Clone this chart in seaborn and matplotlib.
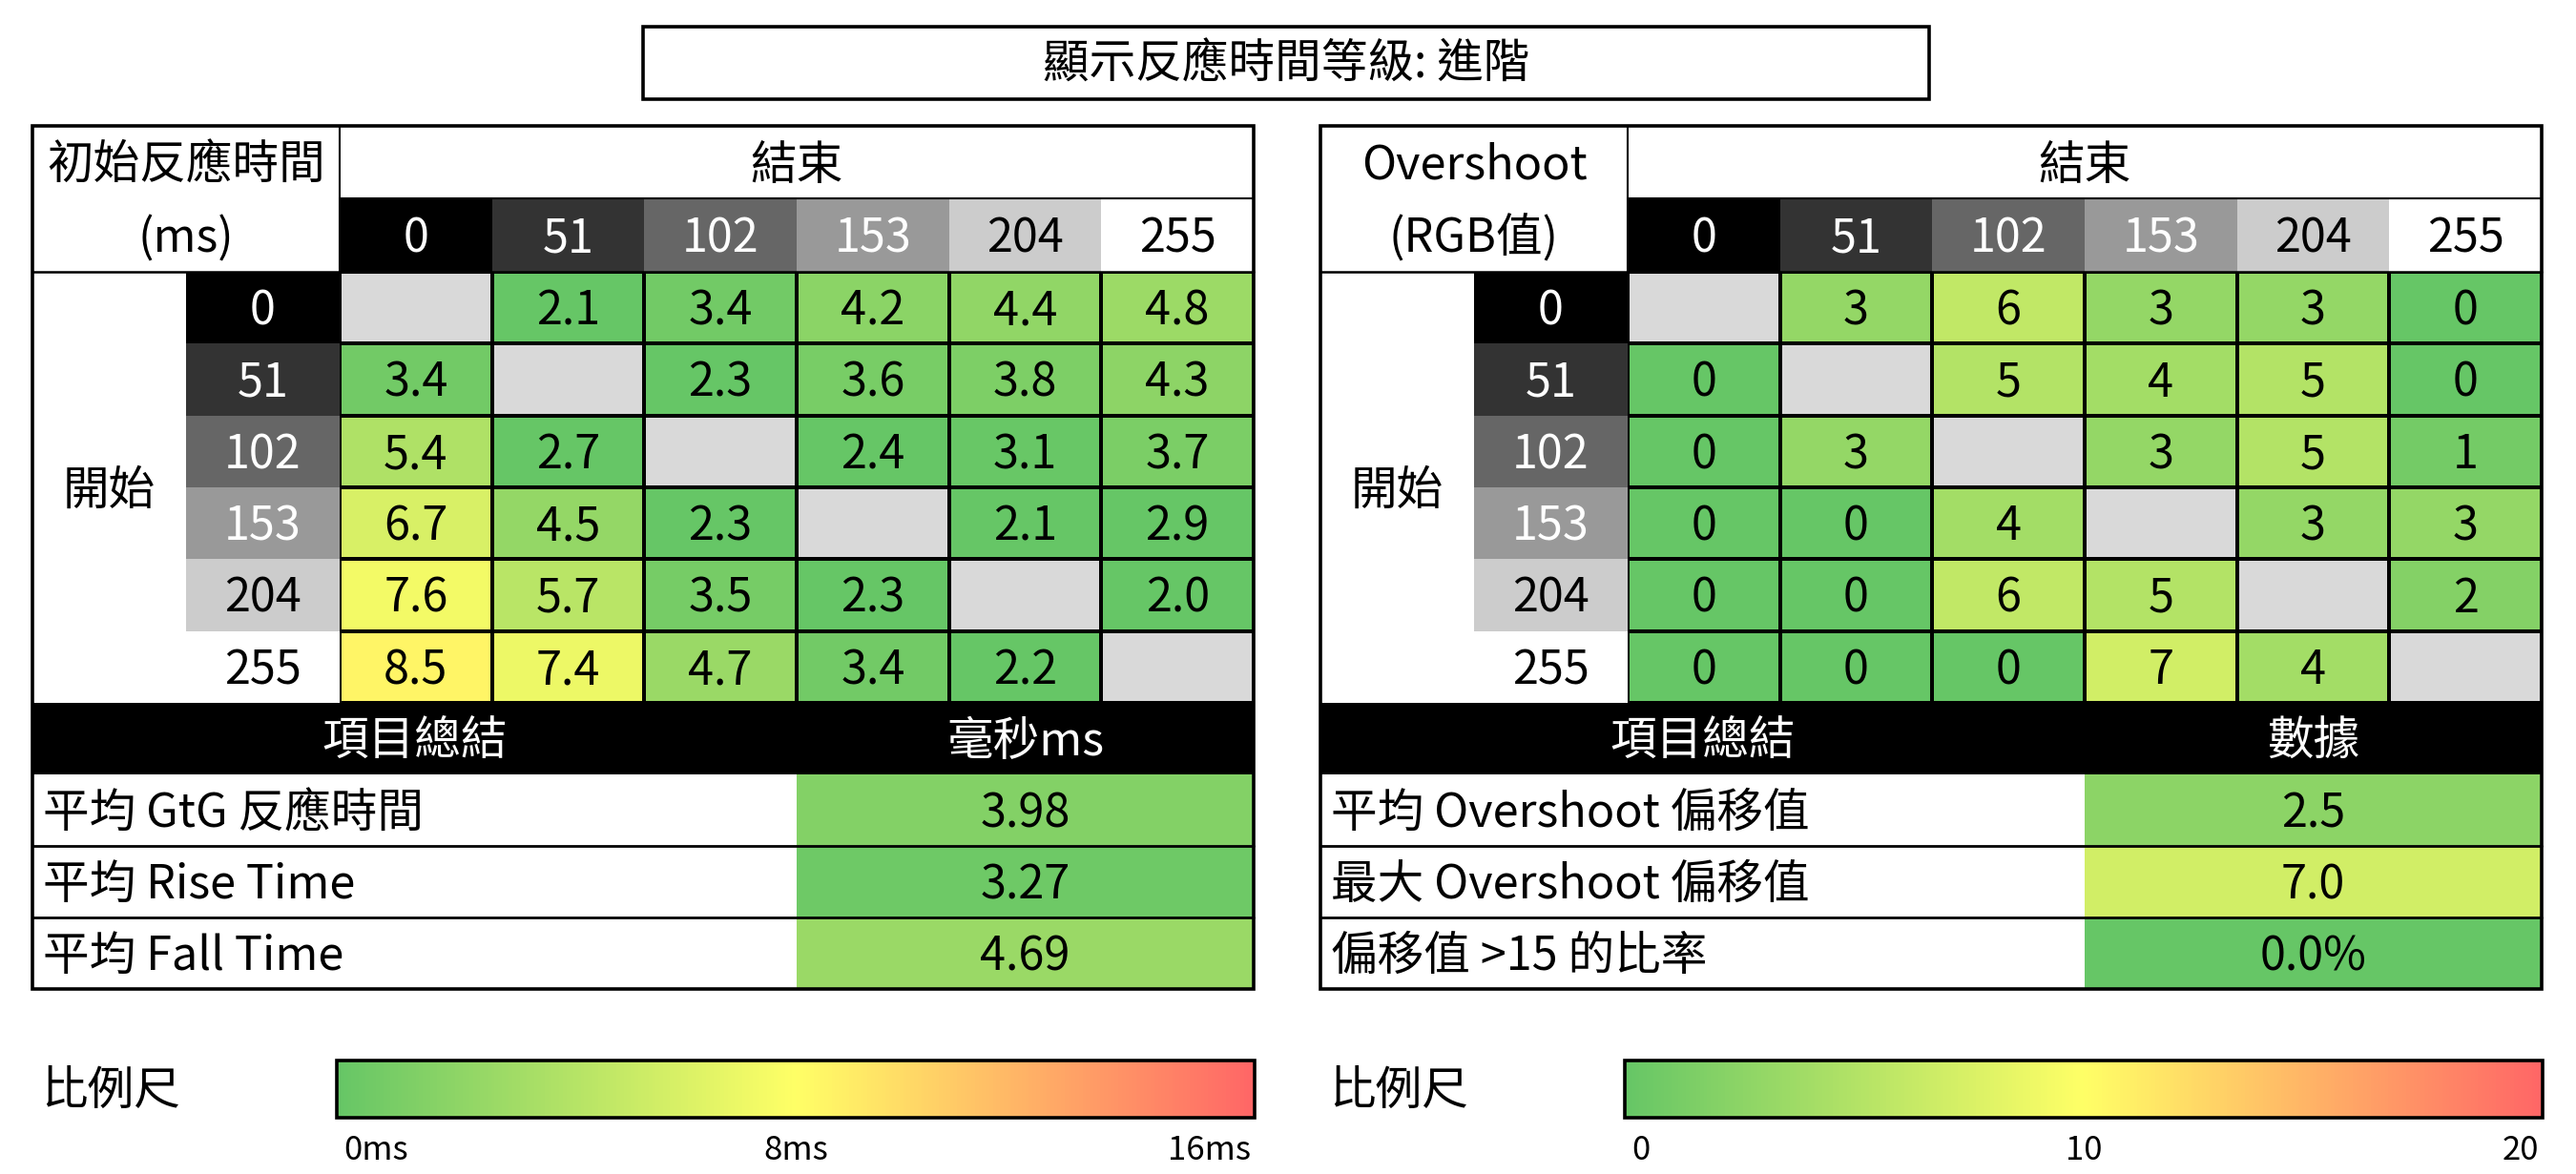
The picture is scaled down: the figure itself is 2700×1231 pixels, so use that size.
import numpy as np
import pandas as pd
import matplotlib
matplotlib.use("Agg")
import matplotlib.pyplot as plt
import seaborn as sns
from matplotlib.colors import LinearSegmentedColormap, Normalize
from matplotlib.patches import Rectangle
from matplotlib.cm import ScalarMappable

sns.set_theme(style="white")
plt.rcParams['font.family'] = ['Noto Sans CJK TC', 'DejaVu Sans']

# ---------------- data ----------------
title = "顯示反應時間等級: 進階"
levels = ["0", "51", "102", "153", "204", "255"]
level_fill = ["#000000", "#333333", "#666666", "#999999", "#CCCCCC", "#FFFFFF"]
level_text = ["white", "white", "white", "white", "black", "black"]

rt_values = [
    [np.nan, 2.1, 3.4, 4.2, 4.4, 4.8],
    [3.4, np.nan, 2.3, 3.6, 3.8, 4.3],
    [5.4, 2.7, np.nan, 2.4, 3.1, 3.7],
    [6.7, 4.5, 2.3, np.nan, 2.1, 2.9],
    [7.6, 5.7, 3.5, 2.3, np.nan, 2.0],
    [8.5, 7.4, 4.7, 3.4, 2.2, np.nan],
]
os_values = [
    [np.nan, 3, 6, 3, 3, 0],
    [0, np.nan, 5, 4, 5, 0],
    [0, 3, np.nan, 3, 5, 1],
    [0, 0, 4, np.nan, 3, 3],
    [0, 0, 6, 5, np.nan, 2],
    [0, 0, 0, 7, 4, np.nan],
]

rt_header = ["初始反應時間", "(ms)"]
os_header = ["Overshoot", "(RGB值)"]
end_label = "結束"
start_label = "開始"

rt_summary_head = ["項目總結", "毫秒ms"]
rt_summary_labels = ["平均 GtG 反應時間", "平均 Rise Time", "平均 Fall Time"]
rt_summary_values = [3.98, 3.27, 4.69]
rt_summary_text = ["3.98", "3.27", "4.69"]

os_summary_head = ["項目總結", "數據"]
os_summary_labels = ["平均 Overshoot 偏移值", "最大 Overshoot 偏移值", "偏移值 >15 的比率"]
os_summary_values = [2.5, 7.0, 0.0]
os_summary_text = ["2.5", "7.0", "0.0%"]

scale_label = "比例尺"
rt_scale = (0, 16)
rt_ticks = ["0ms", "8ms", "16ms"]
os_scale = (0, 20)
os_ticks = ["0", "10", "20"]

# ---------------- style ----------------
GREEN, YELLOW, RED = "#66C666", "#FFFF66", "#FF6666"
cmap = LinearSegmentedColormap.from_list("gyr", [GREEN, YELLOW, RED])
# response-time cells: green up to ~3 ms, yellow at 8 ms, red at 16 ms
cmap_rt = LinearSegmentedColormap.from_list(
    "gyr_rt", [(0.0, GREEN), (3 / 16, GREEN), (0.5, YELLOW), (1.0, RED)])
DIAG = "#D9D9D9"
W, H = 2700, 1231
FS = 35
DY = 4  # text baseline correction (px)

fig = plt.figure(figsize=(W / 100, H / 100), dpi=100)
fig.patch.set_facecolor("white")

bg = fig.add_axes([0, 0, 1, 1], zorder=0)
bg.set_xlim(0, W); bg.set_ylim(H, 0); bg.axis("off")
top = fig.add_axes([0, 0, 1, 1], zorder=10)
top.set_xlim(0, W); top.set_ylim(H, 0); top.axis("off")
top.patch.set_alpha(0)


def px_axes(x0, y0, x1, y1, z=5):
    return fig.add_axes([x0 / W, 1 - y1 / H, (x1 - x0) / W, (y1 - y0) / H], zorder=z)


def txt(ax, x, y, s, **kw):
    kw.setdefault("ha", "center")
    kw.setdefault("va", "center")
    kw.setdefault("fontsize", FS)
    kw.setdefault("color", "black")
    ax.text(x, y + DY, s, **kw)


# title box
top.add_patch(Rectangle((674, 28), 2022 - 674, 104 - 28, fill=False, lw=2.6, ec="black"))
txt(top, 1348, 64, title)

# table geometry
X0, XS, XD, X1 = 34, 195, 356, 1314
Y0, YH, YD, YS, Y1 = 132, 208, 285, 737, 1037
CW = (X1 - XD) / 6
RH = (YS - YD) / 6
SRH = (Y1 - 812) / 3


def shift_annots(ax, rows_px):
    for t in ax.texts:
        x, y = t.get_position()
        t.set_position((x, y + DY / rows_px))


def draw_table(ox, values, vmin, vmax, cell_cmap, fmt, header, s_head, s_labels,
               s_values, s_text, scale, ticks):
    # header cells
    for i, lab in enumerate(levels):
        cx = ox + XD + i * CW
        bg.add_patch(Rectangle((cx, YH), CW, YD - YH, color=level_fill[i], lw=0))
        txt(bg, cx + CW / 2, (YH + YD) / 2, lab, color=level_text[i])
        ry = YD + i * RH
        bg.add_patch(Rectangle((ox + XS, ry), XD - XS, RH, color=level_fill[i], lw=0))
        txt(bg, ox + (XS + XD) / 2, ry + RH / 2, lab, color=level_text[i])
    txt(bg, ox + (X0 + XD) / 2, (Y0 + YH) / 2, header[0])
    txt(bg, ox + (X0 + XD) / 2, (YH + YD) / 2, header[1])
    txt(bg, ox + (XD + X1) / 2, (Y0 + YH) / 2, end_label)
    txt(bg, ox + (X0 + XS) / 2, (YD + YS) / 2, start_label)

    # data heatmap
    df = pd.DataFrame(values, index=levels, columns=levels)
    hax = px_axes(ox + XD, YD, ox + X1, YS)
    hax.set_facecolor(DIAG)
    sns.heatmap(df, ax=hax, cmap=cell_cmap, vmin=vmin, vmax=vmax, mask=df.isna(),
                annot=True, fmt=fmt, annot_kws={"size": FS, "color": "black"},
                linewidths=1.5, linecolor="black", cbar=False,
                xticklabels=False, yticklabels=False)
    shift_annots(hax, RH)

    # summary header
    bg.add_patch(Rectangle((ox + X0, YS), X1 - X0, 812 - YS, color="black", lw=0))
    xv = ox + XD + 3 * CW
    txt(bg, (ox + X0 + xv) / 2, (YS + 812) / 2, s_head[0], color="white")
    txt(bg, (xv + ox + X1) / 2, (YS + 812) / 2, s_head[1], color="white")

    # summary values
    sdf = pd.DataFrame({"v": s_values})
    sax = px_axes(xv, 812, ox + X1, Y1)
    sns.heatmap(sdf, ax=sax, cmap=cell_cmap, vmin=vmin, vmax=vmax,
                annot=np.array(s_text).reshape(-1, 1), fmt="",
                annot_kws={"size": FS, "color": "black"}, linewidths=0,
                cbar=False, xticklabels=False, yticklabels=False)
    shift_annots(sax, SRH)
    for k, lab in enumerate(s_labels):
        txt(bg, ox + 45, 812 + (k + 0.5) * SRH, lab, ha="left")

    # borders
    top.add_patch(Rectangle((ox + X0, Y0), X1 - X0, Y1 - Y0, fill=False, lw=2.6, ec="black"))
    top.plot([ox + XD, ox + XD], [Y0, YD], color="black", lw=1.5)
    top.plot([ox + XD, ox + X1], [YH, YH], color="black", lw=1.5)
    top.plot([ox + X0, ox + X1], [YD, YD], color="black", lw=1.8)
    for k in (1, 2):
        yy = 812 + k * SRH
        top.plot([ox + X0, ox + X1], [yy, yy], color="black", lw=2.0)

    # colour scale
    txt(bg, ox + 43, 1140, scale_label, ha="left")
    cax = px_axes(ox + 353, 1112, ox + 1315, 1172)
    cb = fig.colorbar(ScalarMappable(norm=Normalize(*scale), cmap=cmap), cax=cax,
                      orientation="horizontal")
    cb.set_ticks([])
    cb.outline.set_linewidth(2.6)
    cb.outline.set_edgecolor("black")
    tick_y = 1203
    txt(bg, ox + 360, tick_y, ticks[0], ha="left", fontsize=25)
    txt(bg, ox + 834, tick_y, ticks[1], fontsize=25)
    txt(bg, ox + 1311, tick_y, ticks[2], ha="right", fontsize=25)


draw_table(0, rt_values, 0, 16, cmap_rt, ".1f", rt_header, rt_summary_head,
           rt_summary_labels, rt_summary_values, rt_summary_text, rt_scale, rt_ticks)
draw_table(1350, os_values, 0, 20, cmap, ".0f", os_header, os_summary_head,
           os_summary_labels, os_summary_values, os_summary_text, os_scale, os_ticks)

fig.savefig("out.png", dpi=100, facecolor="white")
